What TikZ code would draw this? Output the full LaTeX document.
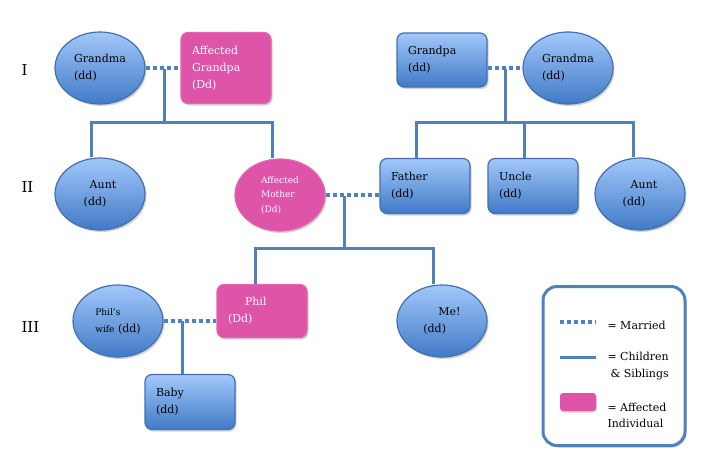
\documentclass[tikz,border=0pt]{standalone}
\usepackage{tikz}
\usepackage{fontspec}
\setmainfont{DejaVu Serif}
\usetikzlibrary{shapes.geometric,shadows}
\definecolor{famtop}{RGB}{162,200,250}
\definecolor{fambot}{RGB}{64,122,198}
\definecolor{famedge}{RGB}{66,112,176}
\definecolor{famline}{RGB}{79,129,189}
\definecolor{affpink}{RGB}{222,84,168}
\newcommand{\gen}[1]{\fontsize{15}{20}\selectfont #1}
\newcommand{\smtxt}{\fontsize{9}{14.5}\selectfont}
\tikzset{
  person/.style={draw=famedge,line width=1.2pt,top color=famtop,bottom color=fambot,
    drop shadow={opacity=0.35,shadow xshift=1.5pt,shadow yshift=-2pt},
    font=\fontsize{11}{17}\selectfont,inner sep=0pt},
  bluecirc/.style={person,ellipse,minimum width=90pt,minimum height=72pt,align=left},
  bluebox/.style={person,rectangle,rounded corners=7pt,minimum width=90pt,minimum height=55pt,
    text width=68pt,align=left},
  pinkcirc/.style={bluecirc,fill=affpink,top color=affpink,bottom color=affpink,draw=affpink!90!white,text=white},
  pinkbox/.style={bluebox,fill=affpink,top color=affpink,bottom color=affpink,draw=affpink!90!white,text=white},
  wed/.style={draw=famline,line width=4pt,dash pattern=on 4pt off 3pt},
  kin/.style={draw=famline,line width=3pt}
}
\begin{document}
\begin{tikzpicture}[x=1pt,y=-1pt]
  \useasboundingbox (0,0) rectangle (718,466);

  \node at (18,70) [anchor=west] (g1) {\gen{I}};
  \node at (18,187) [anchor=west] (g2) {\gen{II}};
  \node at (18,327) [anchor=west] (g3) {\gen{III}};

  % generation I
  \node at (100,68) [bluecirc] (gma1) {Grandma\\(dd)};
  \node at (226,68) [pinkbox,minimum height=71pt] (agpa) {Affected\\Grandpa\\(Dd)};
  \node at (442,60) [bluebox,minimum height=54pt] (gpa2) {Grandpa\\(dd)};
  \node at (568,68) [bluecirc] (gma2) {Grandma\\(dd)};

  % generation II
  \node at (100,194) [bluecirc] (aunt1) {\hspace*{6pt}Aunt\\(dd)};
  \node at (280,195) [pinkcirc,font=\smtxt] (amom) {Affected\\Mother\\(Dd)};
  \node at (425,186) [bluebox] (dad) {Father\\(dd)};
  \node at (533,186) [bluebox] (uncle) {Uncle\\(dd)};
  \node at (640,194) [bluecirc] (aunt2) {\hspace*{8pt}Aunt\\(dd)};

  % generation III
  \node at (118,321) [bluecirc] (wife) {{\smtxt Phil's}\\{\smtxt wife} (dd)};
  \node at (262,311) [pinkbox,minimum height=53pt] (phil) {\hspace*{17pt}Phil\\(Dd)};
  \node at (442,321) [bluecirc] (me) {\hspace*{15pt}Me!\\(dd)};
  \node at (190,402) [bluebox] (baby) {Baby\\(dd)};

  \coordinate (c1) at (164,69);
  \coordinate (j1) at (164,122);
  \coordinate (c2) at (505,69);
  \coordinate (j2) at (505,122);
  \coordinate (c3) at (344,196);
  \coordinate (j3) at (344,248);
  \coordinate (c4) at (182,321);

  \draw[wed] (gma1.east) -- (agpa.west |- gma1.east);
  \draw[kin] (c1) -- (j1);
  \draw[kin] ([xshift=-9pt]aunt1.north) |- (j1) -| ([xshift=-8pt]amom.north);

  \draw[wed] (gpa2.east |- gma2.west) -- (gma2.west);
  \draw[kin] (c2) -- (j2);
  \draw[kin] ([xshift=-9pt]dad.north) |- (j2) -| ([xshift=-7pt]aunt2.north);
  \draw[kin] ([xshift=-9pt]uncle.north) -- ([xshift=-9pt]uncle.north |- j2);

  \draw[wed] (amom.east) -- (amom.east -| dad.west);
  \draw[kin] (c3) -- (j3);
  \draw[kin] ([xshift=-7pt]phil.north) |- (j3) -| ([xshift=-9pt]me.north);

  \draw[wed] (wife.east) -- (wife.east -| phil.west);
  \draw[kin] (c4) -- (c4 |- baby.north);

  % key
  \node at (614,366) [draw=famline,line width=3pt,fill=white,rounded corners=14pt,
    minimum width=142pt,minimum height=159pt,
    drop shadow={opacity=0.35,shadow xshift=1.5pt,shadow yshift=-2pt}] (key) {};
  \coordinate (k1a) at (560,322);
  \coordinate (k1b) at (596,322);
  \coordinate (k2a) at (560,357);
  \coordinate (k2b) at (596,357);
  \draw[wed] (k1a) -- (k1b);
  \draw[kin] (k2a) -- (k2b);
  \node at (578,402) [rectangle,fill=affpink,rounded corners=3pt,minimum width=36pt,minimum height=18pt,
    drop shadow={opacity=0.3,shadow xshift=1pt,shadow yshift=-1.5pt}] (ksw) {};
  \node at (604,325) [anchor=west,font=\fontsize{11}{17}\selectfont] (t1) {= Married};
  \node at (604,366) [anchor=west,align=left,font=\fontsize{11}{17}\selectfont] (t2) {= Children\\\hspace*{3pt}\& Siblings};
  \node at (604,415) [anchor=west,align=left,font=\fontsize{11}{16}\selectfont] (t3) {= Affected\\Individual};
\end{tikzpicture}
\end{document}
